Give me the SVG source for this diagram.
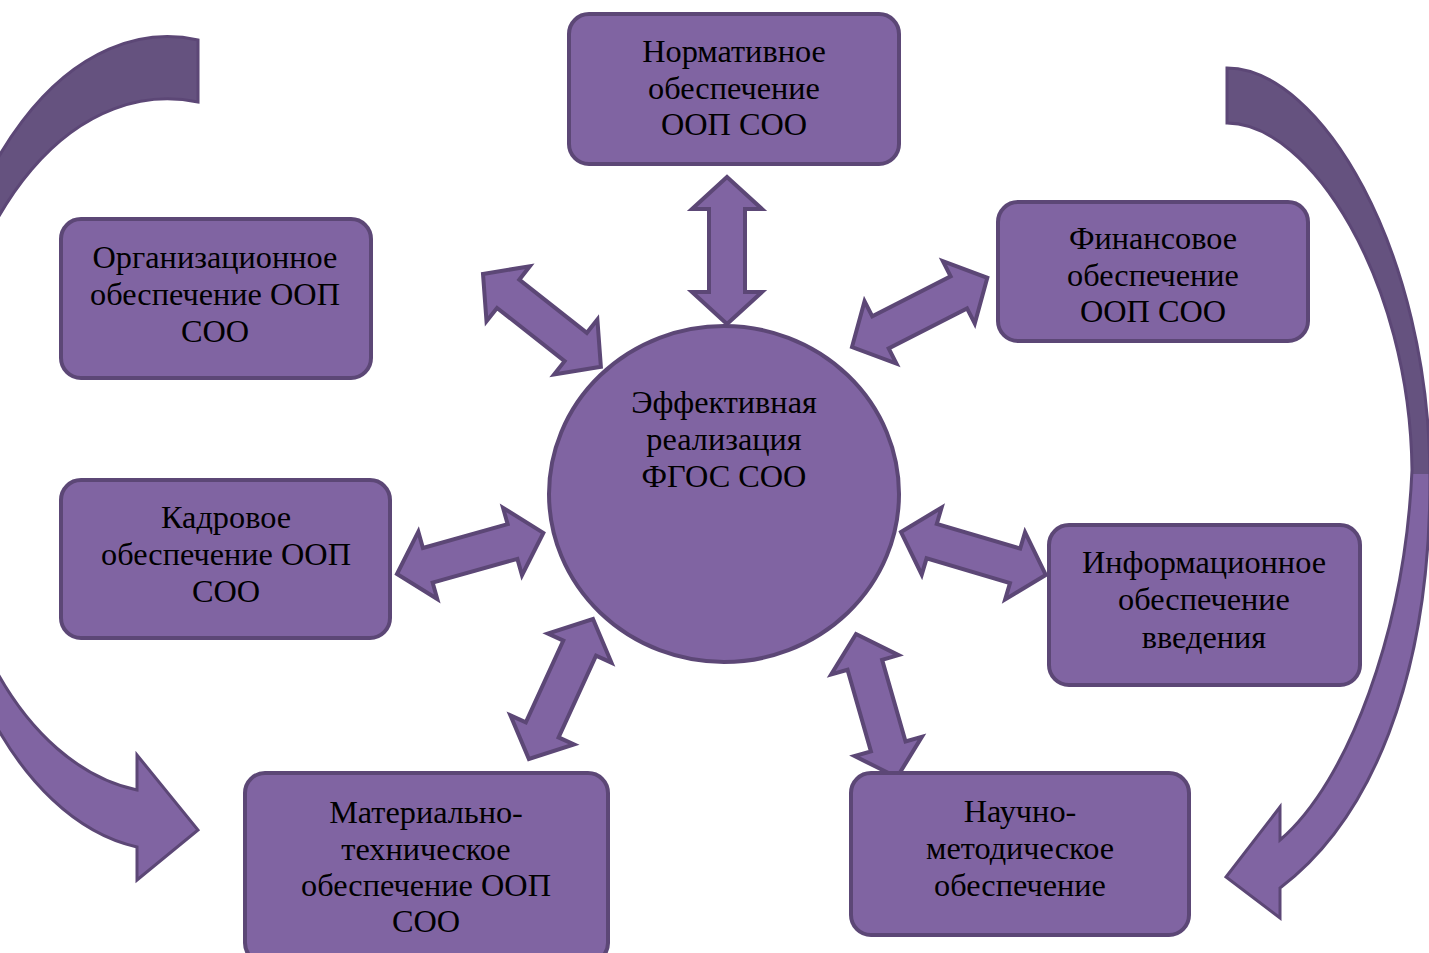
<svg xmlns="http://www.w3.org/2000/svg" width="1429" height="953" viewBox="0 0 1429 953">
<style>
.box{fill:#8064a2;stroke:#5c4776;stroke-width:4}
.arr{fill:#8064a2;stroke:#5c4776;stroke-width:4;stroke-linejoin:miter}
.big{stroke:#5c4776;stroke-width:3}
text{font-family:"Liberation Serif","Times New Roman",serif;font-size:32.3px;fill:#000;text-anchor:middle}
</style>
<defs>
<linearGradient id="gl" gradientUnits="userSpaceOnUse" x1="0" y1="40" x2="0" y2="880">
<stop offset="0" stop-color="#65527f"/><stop offset="0.482" stop-color="#65527f"/><stop offset="0.482" stop-color="#8064a2"/><stop offset="1" stop-color="#8064a2"/>
</linearGradient>
<linearGradient id="gr" gradientUnits="userSpaceOnUse" x1="0" y1="68" x2="0" y2="918">
<stop offset="0" stop-color="#65527f"/><stop offset="0.478" stop-color="#65527f"/><stop offset="0.478" stop-color="#8064a2"/><stop offset="1" stop-color="#8064a2"/>
</linearGradient>
</defs>
<g id="connectors">
<path class="big" fill="url(#gl)" d="M198,40 A237,405 0 0 0 137,847 L137,880 L198,830 L137,755 L137,790 A224,346 0 0 1 198,102 Z"/>
<path class="big" fill="url(#gr)" d="M1227,68 C1320,68 1430,250 1430,480 C1430,680 1370,820 1280,888 L1280,918 L1226,877 L1280,807 L1280,840 C1348,782 1405,630 1412,470 C1410,280 1310,123 1227,123 Z"/>
<polygon class="arr" transform="translate(483,274) rotate(38.2)" points="0,0 32,-35 32,-18 118,-18 118,-35 150,0 118,35 118,18 32,18 32,35"/>
<polygon class="arr" transform="translate(852,347) rotate(-27.1)" points="0,0 32,-35 32,-18 120,-18 120,-35 152,0 120,35 120,18 32,18 32,35"/>
<polygon class="arr" transform="translate(727,177) rotate(90)" points="0,0 32,-35 32,-18 115,-18 115,-35 147,0 115,35 115,18 32,18 32,35"/>
<polygon class="arr" transform="translate(397,574) rotate(-15.7)" points="0,0 32,-35 32,-18 120,-18 120,-35 152,0 120,35 120,18 32,18 32,35"/>
<polygon class="arr" transform="translate(901,532) rotate(16.5)" points="0,0 32,-35 32,-18 119,-18 119,-35 151,0 119,35 119,18 32,18 32,35"/>
<polygon class="arr" transform="translate(593,619) rotate(114.6)" points="0,0 32,-35 32,-18 122,-18 122,-35 154,0 122,35 122,18 32,18 32,35"/>
<polygon class="arr" transform="translate(856,634) rotate(74)" points="0,0 32,-35 32,-18 117,-18 117,-35 149,0 117,35 117,18 32,18 32,35"/>
</g>
<g id="center">
<ellipse class="box" cx="724" cy="494" rx="175" ry="168"/>
<text x="724" y="413">Эффективная</text>
<text x="724" y="450">реализация</text>
<text x="724" y="487">ФГОС СОО</text>
</g>
<g id="normativnoe">
<rect class="box" x="569" y="14" width="330" height="150" rx="20"/>
<text x="734" y="62">Нормативное</text>
<text x="734" y="99">обеспечение</text>
<text x="734" y="135">ООП СОО</text>
</g>
<g id="organizatsionnoe">
<rect class="box" x="61" y="219" width="310" height="159" rx="20"/>
<text x="215" y="268">Организационное</text>
<text x="215" y="305">обеспечение ООП</text>
<text x="215" y="342">СОО</text>
</g>
<g id="finansovoe">
<rect class="box" x="998" y="202" width="310" height="139" rx="20"/>
<text x="1153" y="249">Финансовое</text>
<text x="1153" y="286">обеспечение</text>
<text x="1153" y="322">ООП СОО</text>
</g>
<g id="kadrovoe">
<rect class="box" x="61" y="480" width="329" height="158" rx="20"/>
<text x="226" y="528">Кадровое</text>
<text x="226" y="565">обеспечение ООП</text>
<text x="226" y="602">СОО</text>
</g>
<g id="informatsionnoe">
<rect class="box" x="1049" y="525" width="311" height="160" rx="20"/>
<text x="1204" y="573">Информационное</text>
<text x="1204" y="610">обеспечение</text>
<text x="1204" y="648">введения</text>
</g>
<g id="materialno">
<rect class="box" x="245" y="773" width="363" height="190" rx="20"/>
<text x="426" y="823">Материально-</text>
<text x="426" y="860">техническое</text>
<text x="426" y="896">обеспечение ООП</text>
<text x="426" y="932">СОО</text>
</g>
<g id="nauchno">
<rect class="box" x="851" y="773" width="338" height="162" rx="20"/>
<text x="1020" y="822">Научно-</text>
<text x="1020" y="859">методическое</text>
<text x="1020" y="896">обеспечение</text>
</g>
</svg>
